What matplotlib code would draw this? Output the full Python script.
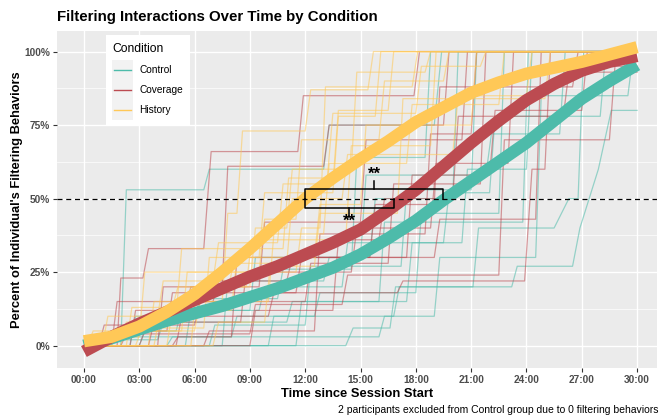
import matplotlib
matplotlib.use('Agg')
import matplotlib.pyplot as plt
from matplotlib.lines import Line2D
from matplotlib.patches import Rectangle

plt.rcParams['font.family'] = ['Liberation Sans', 'DejaVu Sans']

# данные

conditions = ['Control', 'Coverage', 'History']
colors = {'Control': '#4DBBAA', 'Coverage': '#BC4B51', 'History': '#FFC857'}

# сглаженные средние (минуты, проценты)
smooth_t = [0, 1.5, 3, 4.5, 6, 7.5, 9, 10.5, 12, 13.5, 15, 16.5, 18, 19.5, 21, 22.5, 24, 25.5, 27, 28.5, 30]
control_smooth = [0, 2.5, 5.5, 8.5, 11, 13.5, 16.5, 19.5, 23, 26.5, 31, 36.5, 42.5, 49.5, 56, 62.5, 69, 76.5, 84, 90, 95.5]
coverage_smooth = [-2, 3, 7.5, 11.5, 15.5, 19.5, 23.5, 27, 31, 35, 39.5, 46, 53, 61, 69, 76.5, 83.5, 89, 93.5, 96.5, 98.5]
history_smooth = [1.5, 3, 6.5, 11.5, 17.5, 25, 33, 41.5, 50, 57, 63.5, 69.5, 76, 81, 86, 89.5, 92.5, 94.5, 96.5, 99, 101.5]

# отдельные участники: (время, процент)
control_lines = [
    ([0, 2.0, 2.3, 6.5, 6.8, 13.0, 13.3, 19.0, 19.4, 30], [0, 0, 53, 53, 60, 60, 75, 75, 100, 100]),
    ([0, 6.8, 7.1, 12.0, 12.3, 17.2, 17.5, 21.0, 21.3, 30], [0, 0, 7, 7, 27, 27, 53, 53, 100, 100]),
    ([0, 14.2, 14.6, 16.6, 16.9, 21.1, 21.4, 25.5, 26.3, 26.8, 27.1, 30], [0, 0, 6, 6, 20, 20, 40, 40, 50, 50, 100, 100]),
    ([0, 10.0, 10.3, 16.8, 17.1, 23.2, 23.5, 26.5, 26.9, 27.9, 28.6, 30], [0, 0, 10, 10, 20, 20, 27, 27, 40, 60, 80, 80]),
    ([0, 3.0, 3.3, 5.0, 5.3, 9.0, 9.3, 15.5, 15.8, 20.0, 20.3, 30], [0, 0, 5, 5, 12, 12, 30, 30, 50, 50, 100, 100]),
    ([0, 1.2, 1.5, 8.0, 8.3, 12.5, 12.8, 18.0, 18.3, 22.5, 22.8, 30], [0, 0, 3, 3, 10, 10, 18, 18, 45, 45, 100, 100]),
    ([0, 5.5, 5.8, 9.5, 9.8, 14.0, 14.3, 20.5, 20.8, 24.0, 24.3, 30], [0, 0, 12, 12, 20, 20, 35, 35, 60, 60, 100, 100]),
    ([0, 0.3, 0.6, 4.0, 4.3, 11.0, 11.3, 16.0, 16.3, 23.8, 24.1, 30], [0, 0, 2, 2, 8, 8, 15, 15, 42, 42, 100, 100]),
    ([0, 7.5, 7.8, 13.0, 13.3, 15.0, 15.3, 21.8, 22.1, 25.8, 26.1, 30], [0, 0, 22, 22, 30, 30, 58, 58, 72, 72, 100, 100]),
    ([0, 11.5, 11.8, 17.5, 17.8, 19.5, 19.8, 22.0, 22.3, 28.0, 28.3, 30], [0, 0, 15, 15, 35, 35, 52, 52, 78, 78, 100, 100]),
    ([0, 2.5, 2.8, 6.0, 6.3, 10.5, 10.8, 14.5, 14.8, 18.5, 18.8, 30], [0, 0, 10, 10, 16, 16, 26, 26, 64, 64, 100, 100]),
    ([0, 4.5, 4.8, 16.0, 16.3, 19.0, 19.3, 24.5, 24.8, 29.5, 29.8, 30], [0, 0, 3, 3, 10, 10, 30, 30, 85, 85, 100, 100]),
]
coverage_lines = [
    ([0, 1.8, 2.0, 3.2, 3.5, 6.5, 6.9, 11.6, 11.9, 17.9, 18.2, 30], [0, 0, 23, 23, 33, 33, 66, 66, 85, 85, 100, 100]),
    ([0, 4.0, 4.3, 7.5, 7.8, 13.0, 13.3, 19.5, 19.8, 30], [0, 0, 20, 20, 61, 61, 75, 75, 100, 100]),
    ([0, 2.5, 2.8, 5.5, 5.8, 9.5, 9.8, 15.0, 15.3, 20.5, 20.8, 30], [0, 0, 12, 12, 20, 20, 42, 42, 70, 70, 100, 100]),
    ([0, 0.8, 1.1, 6.0, 6.3, 12.0, 12.3, 16.5, 16.8, 21.5, 21.8, 30], [0, 0, 7, 7, 15, 15, 28, 28, 55, 55, 100, 100]),
    ([0, 3.5, 3.8, 8.5, 8.8, 14.5, 14.8, 18.8, 19.1, 23.0, 23.3, 30], [0, 0, 8, 8, 25, 25, 40, 40, 62, 62, 100, 100]),
    ([0, 5.0, 5.3, 10.0, 10.3, 17.0, 17.3, 23.9, 24.3, 25.0, 25.3, 30], [0, 0, 10, 10, 18, 18, 22, 22, 60, 60, 100, 100]),
    ([0, 1.5, 1.8, 7.0, 7.3, 11.0, 11.3, 19.0, 19.3, 24.5, 24.8, 30], [0, 0, 15, 15, 22, 22, 30, 30, 43, 43, 100, 100]),
    ([0, 9.0, 9.3, 13.5, 13.8, 16.0, 16.3, 20.0, 20.3, 26.0, 26.3, 30], [0, 0, 12, 12, 36, 36, 50, 50, 78, 78, 93, 93]),
    ([0, 3.0, 3.3, 4.5, 4.8, 11.5, 11.8, 17.5, 17.8, 22.0, 22.3, 27.0, 27.3, 30], [0, 0, 5, 5, 18, 18, 30, 30, 58, 58, 80, 80, 100, 100]),
    ([0, 6.5, 6.8, 12.5, 12.8, 18.5, 18.8, 21.0, 21.3, 30], [0, 0, 5, 5, 38, 38, 72, 72, 100, 100]),
    ([0, 2.0, 2.3, 9.0, 9.3, 14.0, 14.3, 22.5, 22.8, 28.5, 28.8, 30], [0, 0, 4, 4, 14, 14, 24, 24, 70, 70, 95, 95]),
    ([0, 4.8, 5.1, 8.0, 8.3, 15.5, 15.8, 19.0, 19.3, 26.5, 26.8, 30], [0, 0, 3, 3, 30, 30, 48, 48, 88, 88, 100, 100]),
]
history_lines = [
    ([0, 3.5, 3.8, 7.5, 7.8, 8.3, 8.6, 12.0, 12.3, 15.4, 15.7, 30], [0, 0, 15, 15, 45, 45, 73, 73, 87, 87, 100, 100]),
    ([0, 2.0, 2.3, 5.5, 5.8, 9.0, 9.3, 11.0, 11.3, 14.5, 14.8, 18.5, 18.8, 30], [0, 0, 8, 8, 20, 20, 40, 40, 60, 60, 93, 93, 100, 100]),
    ([0, 1.0, 1.3, 4.0, 4.3, 7.0, 7.3, 10.5, 10.8, 13.5, 13.8, 16.5, 16.8, 30], [0, 0, 10, 10, 22, 22, 35, 35, 55, 55, 80, 80, 100, 100]),
    ([0, 4.5, 4.8, 8.0, 8.3, 12.5, 12.8, 15.0, 15.3, 21.0, 21.3, 30], [0, 0, 12, 12, 30, 30, 48, 48, 75, 75, 100, 100]),
    ([0, 2.8, 3.1, 6.0, 6.3, 10.0, 10.3, 13.0, 13.3, 17.5, 17.8, 22.5, 22.8, 30], [0, 0, 5, 5, 15, 15, 38, 38, 62, 62, 82, 82, 100, 100]),
    ([0, 0.5, 0.8, 3.0, 3.3, 9.5, 9.8, 11.5, 11.8, 16.0, 16.3, 19.5, 19.8, 30], [0, 0, 3, 3, 25, 25, 43, 43, 70, 70, 90, 90, 100, 100]),
    ([0, 5.8, 6.1, 7.8, 8.1, 11.0, 11.3, 14.0, 14.3, 20.0, 20.3, 24.0, 24.3, 30], [0, 0, 18, 18, 28, 28, 50, 50, 65, 65, 85, 85, 100, 100]),
    ([0, 1.5, 1.8, 6.5, 6.8, 9.5, 9.8, 13.5, 13.8, 15.8, 16.1, 30], [0, 0, 6, 6, 30, 30, 52, 52, 78, 78, 100, 100]),
    ([0, 3.8, 4.1, 5.0, 5.3, 10.8, 11.1, 13.2, 13.5, 18.0, 18.3, 21.5, 21.8, 30], [0, 0, 10, 10, 33, 33, 57, 57, 79, 79, 95, 95, 100, 100]),
    ([0, 7.0, 7.3, 9.8, 10.1, 12.5, 12.8, 17.0, 17.3, 25.0, 25.3, 30], [0, 0, 8, 8, 27, 27, 45, 45, 84, 84, 100, 100]),
    ([0, 2.3, 2.6, 4.8, 5.1, 8.8, 9.1, 14.2, 14.5, 18.8, 19.1, 30], [0, 0, 13, 13, 20, 20, 36, 36, 68, 68, 100, 100]),
    ([0, 0.2, 0.5, 5.3, 5.6, 11.5, 11.8, 12.8, 13.1, 17.8, 18.1, 30], [0, 0, 5, 5, 25, 25, 40, 40, 88, 88, 100, 100]),
]

# моменты пересечения 50% и отметки значимости
cross_history = 12.0
cross_coverage = 16.8
cross_control = 19.5
sig_upper = '**'
sig_lower = '**'

x_ticks = [0, 3, 6, 9, 12, 15, 18, 21, 24, 27, 30]
x_labels = ['00:00', '03:00', '06:00', '09:00', '12:00', '15:00', '18:00', '21:00', '24:00', '27:00', '30:00']
y_ticks = [0, 25, 50, 75, 100]
y_labels = ['0%', '25%', '50%', '75%', '100%']
y_minor = [12.5, 37.5, 62.5, 87.5]

W, H = 662, 419
fig = plt.figure(figsize=(W / 100, H / 100), dpi=100)
ax = fig.add_axes([57 / W, 1 - 368 / H, 600 / W, 337 / H])
ax.set_facecolor('#EBEBEB')
for s in ax.spines.values():
    s.set_visible(False)

# сетка
for y in y_minor:
    ax.axhline(y, color='white', lw=0.5, zorder=0)
for y in y_ticks:
    ax.axhline(y, color='white', lw=1.0, zorder=0)
for x in x_ticks:
    ax.axvline(x, color='white', lw=1.0, zorder=0)

# тонкие линии участников
groups = {'Control': control_lines, 'Coverage': coverage_lines, 'History': history_lines}
for cond in conditions:
    for t, p in groups[cond]:
        ax.plot(t, p, color=colors[cond], lw=0.9, alpha=0.55, zorder=1)

# сглаженные линии
smooth = {'Control': control_smooth, 'Coverage': coverage_smooth, 'History': history_smooth}
for cond in conditions:
    ax.plot(smooth_t, smooth[cond], color=colors[cond], lw=8.8,
            solid_capstyle='butt', solid_joinstyle='round', zorder=2)

ax.axhline(50, color='black', lw=0.9, ls=(0, (4, 3)), zorder=3)

# скобки значимости
yu, yl = 53.3, 46.8
ax.plot([cross_history, cross_history, cross_control, cross_control], [50, yu, yu, 50], color='black', lw=1.1, zorder=4)
ax.plot([cross_history, cross_history, cross_coverage, cross_coverage], [50, yl, yl, 50], color='black', lw=1.1, zorder=4)
mu = (cross_history + cross_control) / 2
ml = (cross_history + cross_coverage) / 2
ax.plot([mu, mu], [yu, 56.0], color='black', lw=1.1, zorder=4)
ax.plot([ml, ml], [yl, 43.8], color='black', lw=1.1, zorder=4)
ax.text(mu, 55.6, sig_upper, ha='center', va='bottom', fontsize=12, fontweight='bold', zorder=5)
ax.text(ml, 44.8, sig_lower, ha='center', va='top', fontsize=12, fontweight='bold', zorder=5)

ax.set_xlim(-1.46, 31.08)
ax.set_ylim(-7.6, 107.0)
ax.set_xticks(x_ticks)
ax.set_xticklabels(x_labels)
ax.set_yticks(y_ticks)
ax.set_yticklabels(y_labels)
ax.tick_params(length=3, width=0.8, color='#333333', labelsize=7.3, labelcolor='#4D4D4D', pad=2)
for lab in ax.get_xticklabels() + ax.get_yticklabels():
    lab.set_fontweight('bold')

ax.set_xlabel('Time since Session Start', fontsize=9.3, fontweight='bold', labelpad=2)
ax.set_ylabel("Percent of Individual's Filtering Behaviors", fontsize=9.3, fontweight='bold', labelpad=1)
fig.text(57 / W, 1 - 17 / H, 'Filtering Interactions Over Time by Condition',
         fontsize=10.8, fontweight='bold', va='center', ha='left')
fig.text(658 / W, 1 - 410 / H, '2 participants excluded from Control group due to 0 filtering behaviors',
         fontsize=7.5, ha='right', va='center')

# легенда вручную
fig.add_artist(Rectangle((106 / W, 1 - 126 / H), 84 / W, 91 / H, transform=fig.transFigure,
                         facecolor='white', edgecolor='none', zorder=10))
fig.add_artist(Rectangle((112 / W, 1 - 120 / H), 21 / W, 60 / H, transform=fig.transFigure,
                         facecolor='#F2F2F2', edgecolor='none', zorder=11))
fig.text(112 / W, 1 - 49 / H, 'Condition', fontsize=8.7, va='center', ha='left', zorder=12)
for i, cond in enumerate(conditions):
    yy = 1 - (70 + 20 * i) / H
    fig.add_artist(Line2D([114 / W, 131 / W], [yy, yy], transform=fig.transFigure,
                          color=colors[cond], lw=1.0, zorder=12))
    fig.text(139 / W, yy, cond, fontsize=7.3, va='center', ha='left', zorder=12)

fig.savefig('out.png', dpi=100)
